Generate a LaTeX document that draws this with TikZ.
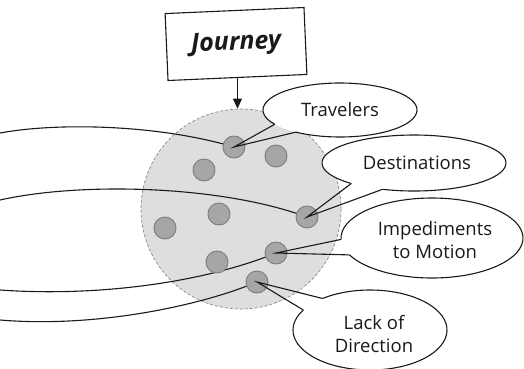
\documentclass[tikz,border=0pt]{standalone}
\usepackage{fontspec}
\setmainfont{Open Sans}
\usetikzlibrary{arrows.meta,calc}
\definecolor{worldgray}{HTML}{DEDEDE}
\definecolor{worldedge}{HTML}{8A8A8A}
\definecolor{dotgray}{HTML}{A6A6A6}
\definecolor{dotedge}{HTML}{7C7C7C}
\definecolor{ink}{HTML}{1A1A1A}
\tikzset{
  line/.style={draw=ink, line width=1.1pt},
  world/.style={circle, minimum size=200pt, inner sep=0pt, fill=worldgray,
    draw=worldedge, line width=0.7pt, dash pattern=on 3pt off 2pt},
  dot/.style={circle, fill=dotgray, draw=dotedge, line width=0.9pt,
    minimum size=22pt, inner sep=0pt},
  calloutlabel/.style={font=\fontsize{18.5}{23}\selectfont, align=center,
    inner sep=0pt, text=ink},
  titlebox/.style={draw=ink, line width=1.1pt, fill=white,
    minimum width=139pt, minimum height=67pt,
    font=\fontsize{25}{30}\selectfont\bfseries\itshape, text=ink},
}
\begin{document}
\begin{tikzpicture}[x=1pt,y=-1pt]
\fill[white] (0,0) rectangle (524,368);
\useasboundingbox (0,0) rectangle (524,368);

% big circle
\node[world] (world) at (241,209) {};

% dot centres
\coordinate (p1) at (234,147);
\coordinate (p2) at (276,156);
\coordinate (p3) at (204,170);
\coordinate (p4) at (307,217);
\coordinate (p5) at (219,214);
\coordinate (p6) at (165,228);
\coordinate (p7) at (276,253);
\coordinate (p8) at (217,262);
\coordinate (p9) at (257,282);

% trajectories from the left
\coordinate (a0) at (0,133);
\coordinate (b0) at (0,200);
\coordinate (c0) at (0,290);
\coordinate (e0) at (0,320);
\draw[line] (a0) .. controls (60,122) and (160,125) .. (p1);
\draw[line] (b0) .. controls (80,182) and (220,185) .. (p4);
\draw[line] (c0) .. controls (100,297) and (205,282) .. (p7);
\draw[line] (e0) .. controls (95,328) and (200,306) .. (p9);

% dots
\foreach \i in {1,...,9} { \node[dot] (d\i) at (p\i) {}; }

% Journey box and arrow
\node[titlebox, rotate=2.5] (journey) at (236,44) {Journey};
\draw[line, line width=0.9pt, -{Triangle[width=9pt,length=10pt]}]
  (journey.south) -- (journey.south |- world.north);

% callout: Travelers
\coordinate (cT) at (340,110);
\fill[white] (cT) ellipse[x radius=77, y radius=27];
\draw[line] ($(cT)+(148:77 and 27)$) arc[start angle=148, end angle=485, x radius=77, y radius=27];
\coordinate (tA) at ($(cT)+(148:77 and 27)$);
\coordinate (tB) at ($(cT)+(125:77 and 27)$);
\draw[line] (tA) -- (d1.center) -- (tB);
\node[calloutlabel] (trav) at (340,110) {Travelers};

% callout: Destinations
\coordinate (cD) at (414,163);
\fill[white] (cD) ellipse[x radius=92, y radius=28];
\draw[line] ($(cD)+(133:92 and 28)$) arc[start angle=133, end angle=470, x radius=92, y radius=28];
\coordinate (dA) at ($(cD)+(133:92 and 28)$);
\coordinate (dB) at ($(cD)+(110:92 and 28)$);
\draw[line] (dA) -- (d4.center) -- (dB);
\node[calloutlabel] (dest) at (417,163) {Destinations};

% callout: Impediments to Motion
\coordinate (cI) at (432,238);
\fill[white] (cI) ellipse[x radius=91, y radius=40];
\draw[line] ($(cI)+(178:91 and 40)$) arc[start angle=178, end angle=515, x radius=91, y radius=40];
\coordinate (iA) at ($(cI)+(178:91 and 40)$);
\coordinate (iB) at ($(cI)+(155:91 and 40)$);
\draw[line] (iA) -- (d7.center) -- (iB);
\node[calloutlabel] (imped) at (435,240) {Impediments\\to Motion};

% callout: Lack of Direction
\coordinate (cL) at (370,330);
\fill[white] (cL) ellipse[x radius=77, y radius=40];
\draw[line] ($(cL)+(232:77 and 40)$) arc[start angle=232, end angle=570, x radius=77, y radius=40];
\coordinate (lA) at ($(cL)+(210:77 and 40)$);
\coordinate (lB) at ($(cL)+(232:77 and 40)$);
\draw[line] (lA) -- (d9.center) -- (lB);
\node[calloutlabel] (lack) at (374,334) {Lack of\\Direction};
\end{tikzpicture}
\end{document}
